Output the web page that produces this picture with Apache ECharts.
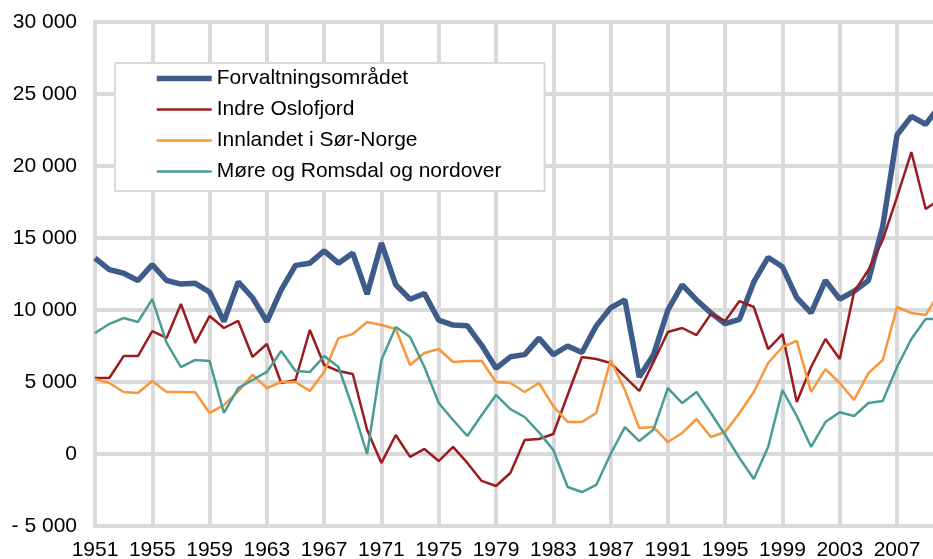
<!DOCTYPE html>
<html>
<head>
<meta charset="utf-8">
<script src="https://cdn.jsdelivr.net/npm/echarts@6/dist/echarts.min.js"></script>
<style>html,body{margin:0;padding:0;background:#fff}#c{width:933px;height:559px}</style>
</head>
<body>
<div id="c"></div>
<script>
const years = [];
for (let y = 1951; y <= 2010; y++) years.push(String(y));

const seriesNames = ['Forvaltningsområdet', 'Indre Oslofjord', 'Innlandet i Sør-Norge', 'Møre og Romsdal og nordover'];

const forvaltning = [13600,12800,12550,12050,13150,12050,11800,11850,11250,9200,
  11950,10850,9200,11400,13100,13250,14100,13250,13950,11100,
  14650,11750,10750,11150,9300,8950,8900,7550,5950,6750,
  6900,8050,6900,7500,7050,8900,10150,10700,5350,6900,
  10000,11750,10700,9800,9050,9350,11950,13650,13000,10850,
  9800,12050,10750,11300,12050,15800,22150,23450,22900,24200];

const indreOslofjord = [5280,5280,6800,6800,8540,8060,10420,7710,9580,8750,
  9240,6740,7640,4930,5140,8610,6180,5760,5560,1670,
  -620,1320,-200,350,-490,490,-620,-1870,-2220,-1320,
  970,1040,1390,4100,6740,6600,6320,5350,4380,6400,
  8470,8750,8260,9720,9240,10620,10210,7290,8330,3610,
  6040,7990,6600,11250,12780,14860,17850,20970,17010,17700];

const innlandet = [5200,4930,4310,4240,5070,4310,4300,4280,2850,3400,
  4350,5490,4580,5000,5000,4380,5700,8050,8330,9170,
  8960,8680,6180,7010,7290,6390,6460,6460,5000,4930,
  4310,4930,3330,2220,2220,2850,6530,4440,1800,1870,
  830,1460,2430,1180,1530,2850,4310,6320,7430,7850,
  4310,5900,4930,3750,5620,6530,10210,9790,9650,11300];

const moreRomsdal = [8400,9030,9440,9170,10760,7710,6040,6530,6460,2850,
  4580,5140,5700,7150,5760,5690,6800,6040,3190,0,
  6530,8820,8120,6040,3540,2360,1250,2710,4100,3120,
  2570,1500,280,-2290,-2640,-2150,0,1870,900,1700,
  4580,3540,4310,2850,1320,-280,-1740,490,4440,2640,
  490,2220,2900,2640,3540,3680,6040,7990,9370,9370];

const seriesData = [forvaltning, indreOslofjord, innlandet, moreRomsdal];
const colors = ['#3f5b8a', '#9b1c20', '#f7973a', '#4b9b96'];
const widths = [5.5, 2.5, 2.5, 2.5];

function fmt(v) {
  const s = String(Math.abs(v)).replace(/\B(?=(\d{3})+(?!\d))/g, ' ');
  return v < 0 ? '- ' + s : s;
}

const FONT = "'Liberation Sans', Arial, sans-serif";
const GRID = '#d9d9d9';

const chart = echarts.init(document.getElementById('c'), null, {renderer: 'canvas'});
chart.setOption({
  animation: false,
  backgroundColor: '#fff',
  grid: {left: 95, width: 845, top: 22, bottom: 33, containLabel: false, outerBoundsMode: 'none'},
  legend: {
    orient: 'vertical',
    left: 115, top: 63,
    padding: [5, 43, 9, 39],
    itemGap: 10,
    itemWidth: 55, itemHeight: 14,
    backgroundColor: '#fff',
    borderColor: GRID, borderWidth: 2,
    itemStyle: {opacity: 0},
    textStyle: {fontFamily: FONT, fontSize: 21, color: '#000', lineHeight: 21},
    data: seriesNames.map((n, i) => ({
      name: n,
      lineStyle: {width: widths[i], color: colors[i], opacity: 1}
    }))
  },
  xAxis: {
    type: 'category',
    data: years,
    boundaryGap: false,
    axisLine: {show: true, lineStyle: {color: GRID, width: 4}},
    axisTick: {show: false},
    axisLabel: {interval: 3, margin: 14, fontFamily: FONT, fontSize: 21, color: '#000'},
    splitLine: {show: true, interval: 3, lineStyle: {color: GRID, width: 4}}
  },
  yAxis: {
    type: 'value',
    min: -5000, max: 30000, interval: 5000,
    axisLine: {show: true, lineStyle: {color: GRID, width: 4}},
    axisTick: {show: false},
    axisLabel: {margin: 18, fontFamily: FONT, fontSize: 21, color: '#000', formatter: fmt},
    splitLine: {show: true, lineStyle: {color: GRID, width: 4}}
  },
  series: seriesNames.map((n, i) => ({
    name: n,
    type: 'line',
    data: seriesData[i],
    symbol: 'none',
    color: colors[i],
    lineStyle: {color: colors[i], width: widths[i]},
    z: 2 + i
  }))
});
</script>
</body>
</html>
